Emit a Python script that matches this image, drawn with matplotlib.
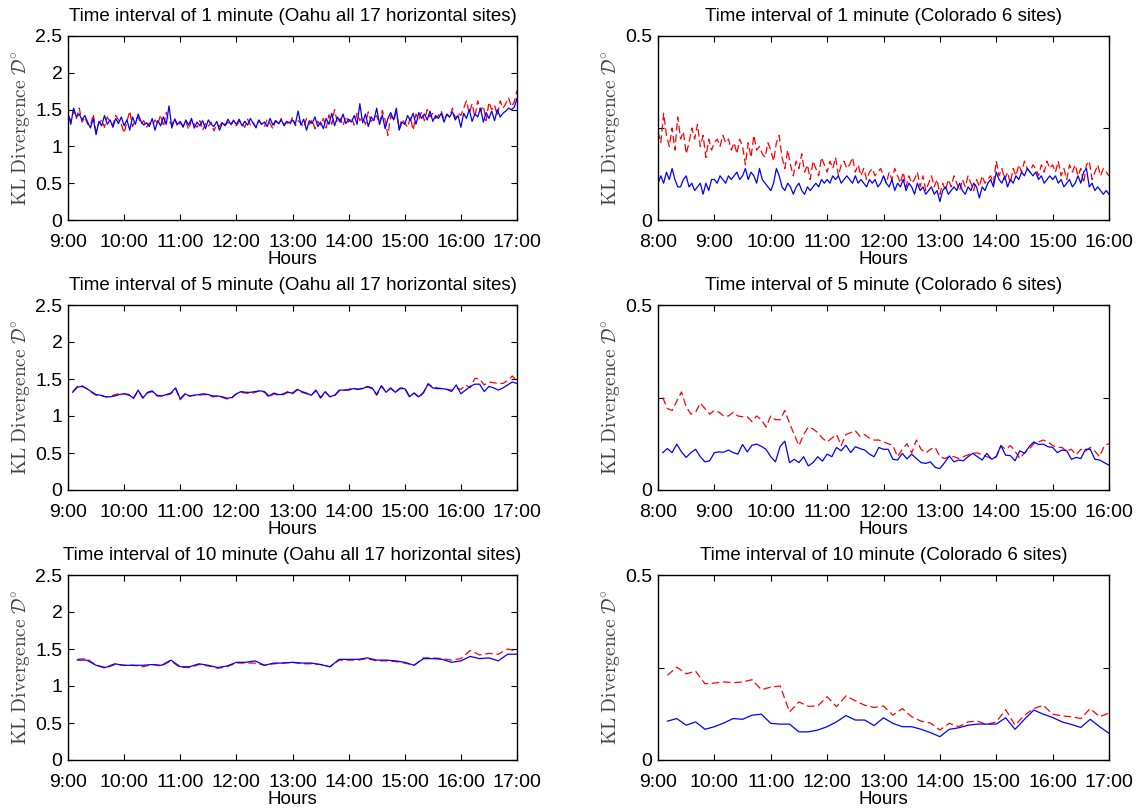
import numpy as np
import matplotlib
matplotlib.use("Agg")
import matplotlib.pyplot as plt
from matplotlib.ticker import FuncFormatter

plt.rcParams['font.family'] = ['Liberation Sans', 'DejaVu Sans']
plt.rcParams['mathtext.fontset'] = 'cm'

# ---------------- data (KL divergence) ----------------
# Oahu, 1 minute interval (values every 3 minutes, 9:00-17:00)
oahu_1_blue = [
    1.45, 1.30, 1.52, 1.40, 1.44, 1.36, 1.42, 1.33, 1.25, 1.38, 1.16, 1.34, 1.28, 1.42, 1.30, 1.36, 1.26, 1.38, 1.31, 1.40,
    1.28, 1.36, 1.22, 1.40, 1.30, 1.44, 1.34, 1.29, 1.32, 1.27, 1.38, 1.22, 1.35, 1.28, 1.40, 1.30, 1.55, 1.25, 1.37, 1.30,
    1.34, 1.26, 1.36, 1.29, 1.38, 1.25, 1.33, 1.28, 1.35, 1.24, 1.36, 1.30, 1.27, 1.34, 1.22, 1.32, 1.28, 1.37, 1.30, 1.35,
    1.30, 1.37, 1.28, 1.34, 1.29, 1.38, 1.31, 1.26, 1.36, 1.30, 1.33, 1.27, 1.38, 1.29, 1.35, 1.31, 1.36, 1.28, 1.34, 1.32,
    1.36, 1.30, 1.48, 1.29, 1.37, 1.22, 1.35, 1.31, 1.40, 1.27, 1.33, 1.24, 1.38, 1.30, 1.45, 1.28, 1.40, 1.33, 1.44, 1.31,
    1.37, 1.33, 1.42, 1.30, 1.58, 1.32, 1.44, 1.27, 1.40, 1.35, 1.52, 1.30, 1.43, 1.24, 1.38, 1.46, 1.36, 1.52, 1.22, 1.33,
    1.30, 1.42, 1.35, 1.45, 1.30, 1.46, 1.38, 1.44, 1.36, 1.48, 1.34, 1.42, 1.38, 1.45, 1.33, 1.44, 1.40, 1.47, 1.36, 1.42,
    1.26, 1.45, 1.38, 1.50, 1.34, 1.44, 1.40, 1.52, 1.33, 1.46, 1.38, 1.48, 1.35, 1.50, 1.40, 1.45, 1.48, 1.52, 1.50, 1.53, 1.65]
oahu_1_red = [
    1.42, 1.35, 1.48, 1.38, 1.52, 1.33, 1.40, 1.30, 1.28, 1.44, 1.20, 1.31, 1.36, 1.26, 1.40, 1.33, 1.29, 1.42, 1.36, 1.30,
    1.18, 1.34, 1.48, 1.27, 1.36, 1.40, 1.30, 1.35, 1.26, 1.32, 1.28, 1.36, 1.30, 1.43, 1.27, 1.46, 1.34, 1.29, 1.38, 1.27,
    1.32, 1.28, 1.34, 1.23, 1.36, 1.30, 1.26, 1.35, 1.22, 1.31, 1.27, 1.33, 1.21, 1.30, 1.27, 1.34, 1.29, 1.33, 1.28, 1.36,
    1.28, 1.34, 1.31, 1.26, 1.37, 1.29, 1.33, 1.25, 1.35, 1.30, 1.27, 1.37, 1.31, 1.24, 1.35, 1.29, 1.38, 1.30, 1.33, 1.28,
    1.40, 1.28, 1.35, 1.31, 1.26, 1.38, 1.30, 1.36, 1.24, 1.34, 1.29, 1.38, 1.25, 1.43, 1.30, 1.50, 1.32, 1.38, 1.28, 1.41,
    1.33, 1.39, 1.29, 1.45, 1.35, 1.40, 1.30, 1.47, 1.34, 1.38, 1.42, 1.30, 1.49, 1.36, 1.15, 1.42, 1.35, 1.46, 1.25, 1.37,
    1.32, 1.26, 1.40, 1.22, 1.44, 1.36, 1.47, 1.35, 1.50, 1.40, 1.45, 1.38, 1.42, 1.48, 1.36, 1.43, 1.40, 1.52, 1.38, 1.45,
    1.42, 1.52, 1.62, 1.45, 1.58, 1.40, 1.62, 1.48, 1.55, 1.35, 1.60, 1.50, 1.56, 1.42, 1.62, 1.52, 1.58, 1.66, 1.54, 1.60, 1.76]

# Colorado, 1 minute interval (values every 3 minutes, 8:00-16:00)
colo_1_blue = [
    0.10, 0.12, 0.10, 0.13, 0.11, 0.14, 0.11, 0.09, 0.09, 0.11, 0.12, 0.09, 0.10, 0.08, 0.09, 0.10, 0.07, 0.10, 0.08, 0.11,
    0.11, 0.10, 0.12, 0.11, 0.10, 0.12, 0.11, 0.12, 0.13, 0.11, 0.12, 0.14, 0.11, 0.13, 0.12, 0.10, 0.14, 0.11, 0.10, 0.09,
    0.08, 0.10, 0.14, 0.12, 0.09, 0.08, 0.10, 0.09, 0.07, 0.09, 0.10, 0.08, 0.07, 0.09, 0.08, 0.09, 0.10, 0.09, 0.11, 0.10,
    0.11, 0.10, 0.12, 0.11, 0.12, 0.10, 0.11, 0.12, 0.11, 0.10, 0.12, 0.10, 0.11, 0.10, 0.09, 0.11, 0.10, 0.11, 0.09, 0.10,
    0.12, 0.10, 0.09, 0.11, 0.08, 0.10, 0.09, 0.11, 0.08, 0.10, 0.09, 0.07, 0.10, 0.08, 0.09, 0.07, 0.08, 0.09, 0.07, 0.08,
    0.05, 0.08, 0.09, 0.07, 0.08, 0.09, 0.08, 0.10, 0.08, 0.07, 0.09, 0.08, 0.10, 0.09, 0.06, 0.09, 0.08, 0.10, 0.11, 0.09,
    0.13, 0.11, 0.10, 0.12, 0.09, 0.11, 0.10, 0.12, 0.11, 0.13, 0.12, 0.14, 0.13, 0.12, 0.13, 0.11, 0.12, 0.10, 0.11, 0.12,
    0.11, 0.12, 0.10, 0.11, 0.09, 0.10, 0.11, 0.09, 0.10, 0.12, 0.10, 0.13, 0.14, 0.09, 0.10, 0.08, 0.09, 0.08, 0.07, 0.08, 0.07]
colo_1_red = [
    0.24, 0.21, 0.29, 0.23, 0.20, 0.25, 0.19, 0.28, 0.22, 0.24, 0.18, 0.21, 0.25, 0.22, 0.26, 0.20, 0.23, 0.17, 0.22, 0.19,
    0.21, 0.22, 0.20, 0.23, 0.21, 0.22, 0.19, 0.21, 0.18, 0.22, 0.20, 0.15, 0.21, 0.17, 0.23, 0.19, 0.20, 0.18, 0.17, 0.21,
    0.19, 0.16, 0.21, 0.23, 0.17, 0.14, 0.19, 0.15, 0.12, 0.16, 0.14, 0.18, 0.13, 0.15, 0.11, 0.16, 0.14, 0.12, 0.17, 0.15,
    0.13, 0.16, 0.14, 0.17, 0.12, 0.15, 0.16, 0.14, 0.15, 0.17, 0.13, 0.15, 0.12, 0.14, 0.11, 0.13, 0.14, 0.12, 0.13, 0.14,
    0.12, 0.10, 0.13, 0.11, 0.14, 0.12, 0.10, 0.13, 0.09, 0.12, 0.10, 0.11, 0.13, 0.09, 0.12, 0.08, 0.10, 0.12, 0.09, 0.11,
    0.07, 0.10, 0.08, 0.11, 0.09, 0.12, 0.10, 0.08, 0.11, 0.09, 0.12, 0.10, 0.08, 0.11, 0.09, 0.12, 0.10, 0.11, 0.12, 0.10,
    0.16, 0.12, 0.14, 0.11, 0.13, 0.10, 0.14, 0.12, 0.15, 0.13, 0.16, 0.14, 0.13, 0.15, 0.14, 0.12, 0.15, 0.13, 0.16, 0.14,
    0.15, 0.13, 0.16, 0.12, 0.14, 0.11, 0.15, 0.13, 0.15, 0.12, 0.14, 0.10, 0.15, 0.16, 0.11, 0.13, 0.15, 0.12, 0.14, 0.13, 0.12]

# Oahu, 5 minute interval (9:05-17:00)
oahu_5_blue = [
    1.32, 1.39, 1.40, 1.37, 1.33, 1.29, 1.28, 1.26, 1.26, 1.27, 1.29, 1.30,
    1.29, 1.24, 1.35, 1.24, 1.32, 1.34, 1.28, 1.27, 1.29, 1.31, 1.38, 1.23,
    1.30, 1.27, 1.28, 1.29, 1.30, 1.29, 1.27, 1.27, 1.26, 1.24, 1.25, 1.30,
    1.33, 1.32, 1.32, 1.33, 1.34, 1.33, 1.27, 1.31, 1.29, 1.29, 1.32, 1.31,
    1.36, 1.33, 1.31, 1.28, 1.35, 1.25, 1.33, 1.26, 1.28, 1.35, 1.35, 1.35,
    1.37, 1.36, 1.37, 1.40, 1.38, 1.29, 1.41, 1.32, 1.38, 1.32, 1.37, 1.37,
    1.26, 1.31, 1.26, 1.32, 1.43, 1.38, 1.37, 1.37, 1.36, 1.33, 1.42, 1.30,
    1.35, 1.40, 1.43, 1.43, 1.33, 1.40, 1.38, 1.35, 1.38, 1.42, 1.46, 1.44]
oahu_5_red = [
    1.33, 1.40, 1.41, 1.37, 1.32, 1.28, 1.28, 1.26, 1.26, 1.29, 1.30, 1.30,
    1.28, 1.24, 1.34, 1.25, 1.31, 1.33, 1.27, 1.27, 1.28, 1.30, 1.37, 1.22,
    1.29, 1.27, 1.28, 1.28, 1.29, 1.28, 1.26, 1.27, 1.25, 1.23, 1.24, 1.30,
    1.32, 1.31, 1.30, 1.32, 1.34, 1.32, 1.25, 1.30, 1.28, 1.30, 1.33, 1.30,
    1.35, 1.32, 1.30, 1.28, 1.34, 1.24, 1.32, 1.26, 1.27, 1.34, 1.35, 1.36,
    1.38, 1.36, 1.38, 1.39, 1.37, 1.28, 1.40, 1.33, 1.37, 1.32, 1.38, 1.38,
    1.27, 1.31, 1.25, 1.31, 1.44, 1.39, 1.38, 1.37, 1.36, 1.35, 1.38, 1.36,
    1.42, 1.38, 1.51, 1.50, 1.42, 1.46, 1.45, 1.44, 1.44, 1.48, 1.54, 1.47]

# Colorado, 5 minute interval (8:05-16:00)
colo_5_blue = [
    0.101, 0.112, 0.101, 0.124, 0.103, 0.088, 0.101, 0.110, 0.090, 0.076, 0.079, 0.101,
    0.103, 0.102, 0.108, 0.101, 0.097, 0.123, 0.103, 0.121, 0.124, 0.118, 0.110, 0.090,
    0.076, 0.118, 0.132, 0.074, 0.083, 0.074, 0.090, 0.065, 0.074, 0.090, 0.078, 0.097,
    0.090, 0.115, 0.106, 0.121, 0.101, 0.117, 0.112, 0.108, 0.097, 0.090, 0.115, 0.110,
    0.110, 0.083, 0.081, 0.099, 0.084, 0.097, 0.085, 0.074, 0.072, 0.076, 0.061, 0.058,
    0.074, 0.092, 0.076, 0.081, 0.079, 0.090, 0.099, 0.090, 0.081, 0.099, 0.083, 0.090,
    0.120, 0.094, 0.093, 0.079, 0.106, 0.099, 0.117, 0.130, 0.123, 0.124, 0.117, 0.115,
    0.101, 0.108, 0.106, 0.083, 0.088, 0.085, 0.110, 0.110, 0.083, 0.081, 0.074, 0.067]
colo_5_red = [
    0.25, 0.22, 0.215, 0.24, 0.265, 0.225, 0.205, 0.21, 0.235, 0.22, 0.205, 0.215,
    0.21, 0.20, 0.20, 0.21, 0.20, 0.198, 0.198, 0.185, 0.20, 0.19, 0.17, 0.20,
    0.19, 0.19, 0.215, 0.18, 0.15, 0.12, 0.15, 0.17, 0.165, 0.155, 0.14, 0.13,
    0.14, 0.15, 0.12, 0.15, 0.155, 0.16, 0.145, 0.15, 0.14, 0.135, 0.135, 0.13,
    0.125, 0.12, 0.09, 0.11, 0.125, 0.10, 0.135, 0.11, 0.10, 0.11, 0.115, 0.09,
    0.085, 0.09, 0.09, 0.085, 0.09, 0.095, 0.10, 0.10, 0.095, 0.09, 0.085, 0.09,
    0.12, 0.11, 0.12, 0.105, 0.085, 0.10, 0.11, 0.125, 0.13, 0.135, 0.13, 0.12,
    0.115, 0.115, 0.105, 0.11, 0.095, 0.11, 0.105, 0.115, 0.105, 0.09, 0.12, 0.125]

# Oahu, 10 minute interval (9:10-17:00)
oahu_10_blue = [
    1.35, 1.35, 1.28, 1.25, 1.30, 1.28, 1.28, 1.28, 1.29, 1.28, 1.35, 1.26,
    1.26, 1.30, 1.28, 1.25, 1.27, 1.32, 1.32, 1.34, 1.28, 1.31, 1.31, 1.32,
    1.31, 1.31, 1.29, 1.26, 1.36, 1.36, 1.36, 1.38, 1.35, 1.35, 1.34, 1.32,
    1.28, 1.37, 1.37, 1.36, 1.32, 1.34, 1.40, 1.37, 1.38, 1.34, 1.43, 1.43]
oahu_10_red = [
    1.36, 1.37, 1.28, 1.24, 1.29, 1.28, 1.28, 1.26, 1.29, 1.27, 1.34, 1.25,
    1.25, 1.29, 1.27, 1.24, 1.26, 1.31, 1.31, 1.31, 1.28, 1.30, 1.31, 1.32,
    1.30, 1.30, 1.29, 1.26, 1.35, 1.35, 1.35, 1.37, 1.34, 1.34, 1.33, 1.31,
    1.28, 1.38, 1.38, 1.37, 1.35, 1.37, 1.48, 1.42, 1.44, 1.43, 1.50, 1.47]

# Colorado, 10 minute interval (9:10-17:00)
colo_10_blue = [
    0.105, 0.112, 0.094, 0.103, 0.083, 0.090, 0.100, 0.112, 0.110, 0.121, 0.124, 0.099,
    0.097, 0.097, 0.076, 0.076, 0.081, 0.090, 0.103, 0.120, 0.108, 0.108, 0.093, 0.114,
    0.099, 0.090, 0.090, 0.083, 0.074, 0.063, 0.083, 0.087, 0.094, 0.097, 0.097, 0.097,
    0.114, 0.083, 0.110, 0.135, 0.124, 0.115, 0.103, 0.096, 0.088, 0.110, 0.090, 0.072]
colo_10_red = [
    0.229, 0.251, 0.233, 0.240, 0.206, 0.208, 0.211, 0.209, 0.211, 0.217, 0.190, 0.197,
    0.200, 0.130, 0.157, 0.145, 0.146, 0.171, 0.144, 0.173, 0.160, 0.148, 0.142, 0.146,
    0.121, 0.139, 0.117, 0.105, 0.100, 0.081, 0.099, 0.090, 0.103, 0.105, 0.096, 0.103,
    0.136, 0.094, 0.121, 0.139, 0.148, 0.124, 0.119, 0.117, 0.112, 0.139, 0.117, 0.127]

# panels: (title, start hour, first sample offset [min], step [min], red, blue, x range, kind)
panels = [
    ("Time interval of 1 minute (Oahu all 17 horizontal sites)", 9, 0, 3, oahu_1_red, oahu_1_blue, (9, 17), "oahu"),
    ("Time interval of 1 minute (Colorado 6 sites)", 8, 0, 3, colo_1_red, colo_1_blue, (8, 16), "colo"),
    ("Time interval of 5 minute (Oahu all 17 horizontal sites)", 9, 5, 5, oahu_5_red, oahu_5_blue, (9, 17), "oahu"),
    ("Time interval of 5 minute (Colorado 6 sites)", 8, 5, 5, colo_5_red, colo_5_blue, (8, 16), "colo"),
    ("Time interval of 10 minute (Oahu all 17 horizontal sites)", 9, 10, 10, oahu_10_red, oahu_10_blue, (9, 17), "oahu"),
    ("Time interval of 10 minute (Colorado 6 sites)", 9, 10, 10, colo_10_red, colo_10_blue, (9, 17), "colo"),
]

fig = plt.figure(figsize=(11.4, 8.11), dpi=100)
W, H = 1140.0, 811.0
col_x = [(68, 449), (658, 451)]
row_y = [(36, 220), (305, 490), (575, 760)]

hour_fmt = FuncFormatter(lambda v, p: "%d:00" % int(round(v)))

for i, (title, h0, off, step, red, blue, xr, kind) in enumerate(panels):
    r, c = divmod(i, 2)
    x0, w = col_x[c]
    top, bot = row_y[r]
    ax = fig.add_axes([x0 / W, 1 - bot / H, w / W, (bot - top) / H])

    t_red = h0 + (off + step * np.arange(len(red))) / 60.0
    t_blue = h0 + (off + step * np.arange(len(blue))) / 60.0
    ax.plot(t_red, red, color="#ff0000", lw=0.9, linestyle=(0, (6, 3)))
    ax.plot(t_blue, blue, color="#0000ff", lw=0.9)

    ax.set_xlim(*xr)
    ax.set_xticks(np.arange(xr[0], xr[1] + 1))
    ax.xaxis.set_major_formatter(hour_fmt)
    if kind == "oahu":
        ax.set_ylim(0, 2.5)
        ax.set_yticks([0, 0.5, 1, 1.5, 2, 2.5])
        ax.set_yticklabels(["0", "0.5", "1", "1.5", "2", "2.5"])
    else:
        ax.set_ylim(0, 0.5)
        ax.set_yticks([0, 0.25, 0.5])
        ax.set_yticklabels(["0", "", "0.5"])

    ax.tick_params(direction="in", top=True, right=True, length=4, width=0.8,
                   labelsize=14)
    ax.tick_params(axis="x", pad=10)
    ax.tick_params(axis="y", pad=4)
    for s in ax.spines.values():
        s.set_linewidth(1.0)

    ax.set_title(title, fontsize=13.5, pad=11)
    ax.set_xlabel("Hours", fontsize=13.5, labelpad=0)
    ax.set_ylabel(r"$\mathrm{KL\ Divergence}\ \mathcal{D}^{\circ}$", fontsize=14,
                  color="#444444", labelpad=2)

fig.savefig("out.png", dpi=100)
